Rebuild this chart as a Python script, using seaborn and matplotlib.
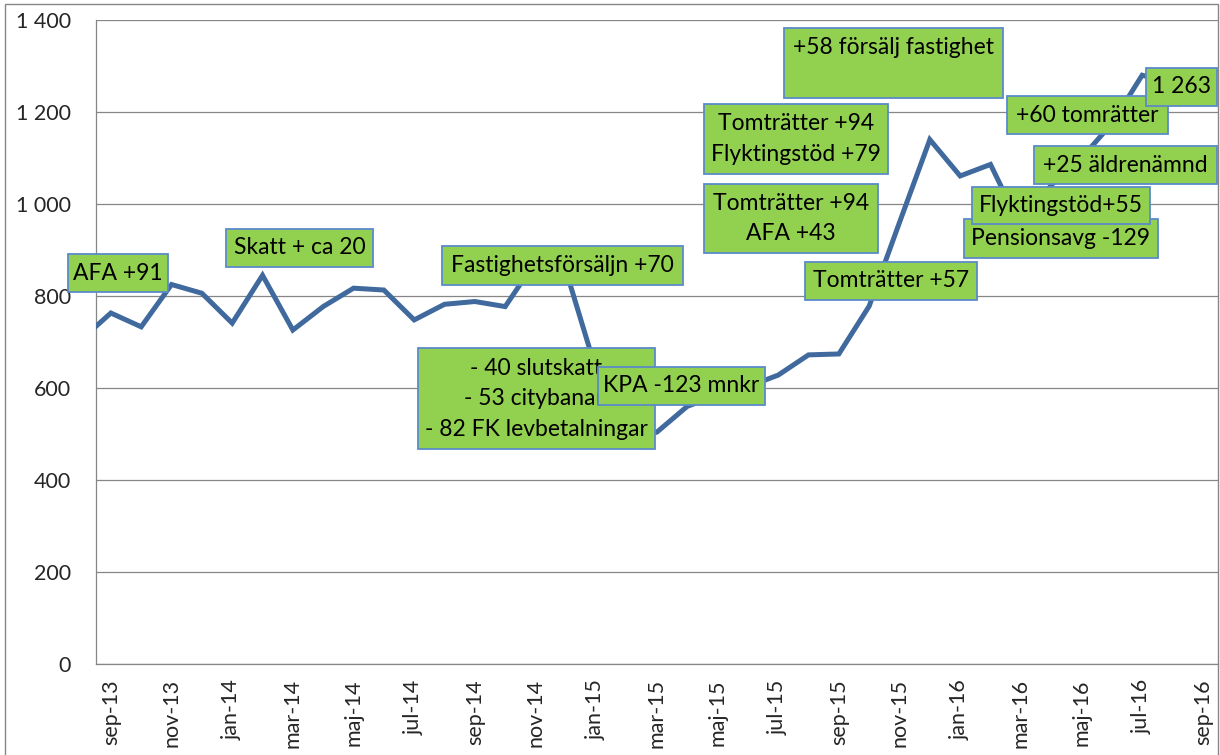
import matplotlib
matplotlib.use("Agg")
import matplotlib.pyplot as plt
from matplotlib.patches import Rectangle
import seaborn as sns
import pandas as pd

# ---------------- data ----------------
months = ["aug-13", "sep-13", "okt-13", "nov-13", "dec-13", "jan-14", "feb-14", "mar-14",
          "apr-14", "maj-14", "jun-14", "jul-14", "aug-14", "sep-14", "okt-14", "nov-14",
          "dec-14", "jan-15", "feb-15", "mar-15", "apr-15", "maj-15", "jun-15", "jul-15",
          "aug-15", "sep-15", "okt-15", "nov-15", "dec-15", "jan-16", "feb-16", "mar-16",
          "apr-16", "maj-16", "jun-16", "jul-16", "aug-16"]
values = [704, 763, 733, 825, 806, 741, 845, 726,
          777, 817, 813, 748, 782, 788, 777, 875,
          856, 638, 490, 504, 560, 585, 603, 628,
          672, 674, 778, 960, 1140, 1061, 1086, 950,
          1041, 1100, 1175, 1280, 1263]

tick_labels = ["sep-13", "nov-13", "jan-14", "mar-14", "maj-14", "jul-14", "sep-14",
               "nov-14", "jan-15", "mar-15", "maj-15", "jul-15", "sep-15", "nov-15",
               "jan-16", "mar-16", "maj-16", "jul-16", "sep-16"]
y_ticks = [0, 200, 400, 600, 800, 1000, 1200, 1400]

# annotation texts with box extents (x in months from sep-13, y in value units)
annotations = [
    ("AFA +91", (-0.90, 2.38, 809, 891)),
    ("Skatt + ca 20", (4.31, 9.13, 864, 946)),
    ("Fastighetsförsäljn +70", (11.43, 19.35, 824, 909)),
    ("- 40 slutskatt\n- 53 citybanan\n- 82 FK levbetalningar", (10.61, 18.45, 467, 686)),
    ("KPA -123 mnkr", (16.56, 22.07, 563, 646)),
    ("Tomträtter +57", (23.37, 29.07, 791, 875)),
    ("Tomträtter +94\nAFA +43", (20.07, 25.78, 893, 1043)),
    ("Tomträtter +94\nFlyktingstöd +79", (20.04, 26.13, 1065, 1217)),
    ("+58 försälj fastighet\n ", (22.70, 29.91, 1231, 1382)),
    ("Pensionsavg -129", (28.62, 35.01, 883, 967)),
    ("Flyktingstöd+55", (28.89, 34.77, 957, 1038)),
    ("+25 äldrenämnd", (30.92, 36.96, 1043, 1126)),
    ("+60 tomrätter", (30.05, 35.34, 1152, 1234)),
    ("1 263", (34.61, 36.96, 1214, 1295)),
]

# ---------------- styling ----------------
sns.set_style("white")
plt.rcParams["font.family"] = ["Lato", "DejaVu Sans"]

W, H = 1220, 755
fig = plt.figure(figsize=(W / 100, H / 100), dpi=100)
left_px, right_px, top_px, bottom_px = 95.7, 1218, 20, 664
ax = fig.add_axes([left_px / W, 1 - bottom_px / H,
                   (right_px - left_px) / W, (bottom_px - top_px) / H])

df = pd.DataFrame({"month": months, "value": values})
df["x"] = [i - 0.5 for i in range(len(months))]  # mid-month positions, sep-13 centre = 0.5

gray = "#868686"
line_color = "#40699E"

sns.lineplot(data=df, x="x", y="value", ax=ax, color=line_color, linewidth=3.6,
             solid_joinstyle="miter", zorder=3)

ax.set_xlim(0, 37)
ax.set_ylim(0, 1400)

# y axis
ax.set_yticks(y_ticks)
ax.set_yticklabels([f"{v:,}".replace(",", " ") for v in y_ticks], fontsize=15.5)
ax.yaxis.grid(True, color=gray, linewidth=0.9)
ax.xaxis.grid(False)
ax.set_axisbelow(True)

# x axis: tick marks at boundaries, labels centred on months
ax.set_xticks([2 * i for i in range(len(tick_labels))])
ax.set_xticklabels([])
ax.set_xticks([2 * i + 0.5 for i in range(len(tick_labels))], minor=True)
ax.set_xticklabels(tick_labels, minor=True, rotation=90, fontsize=15.5,
                   ha="center", va="top")
ax.tick_params(axis="x", which="minor", length=0, pad=11)
ax.tick_params(axis="x", which="major", length=8, width=0.9, color=gray, direction="out")
ax.tick_params(axis="y", which="major", length=8, width=0.9, color=gray, direction="out", pad=10)

for s in ["top", "right"]:
    ax.spines[s].set_visible(False)
for s in ["left", "bottom"]:
    ax.spines[s].set_color(gray)
    ax.spines[s].set_linewidth(0.9)
ax.set_xlabel("")
ax.set_ylabel("")

# annotation boxes
for k, (txt, (x0, x1, y0, y1)) in enumerate(annotations):
    z = 5 + 2 * k
    ax.add_patch(Rectangle((x0, y0), x1 - x0, y1 - y0, facecolor="#92D050",
                           edgecolor="#5B8BC9", linewidth=1.3, zorder=z, clip_on=False))
    ax.text((x0 + x1) / 2, (y0 + y1) / 2, txt, ha="center", va="center",
            multialignment="center", fontsize=16.5, color="black", linespacing=1.55,
            zorder=z + 1, clip_on=False)

# chart-area border
fig.add_artist(Rectangle((5 / W, -0.02), (1218 - 5) / W, 1 - 4 / H + 0.02,
                         transform=fig.transFigure, fill=False, edgecolor=gray,
                         linewidth=1.0))

fig.savefig("out.png", dpi=100)
